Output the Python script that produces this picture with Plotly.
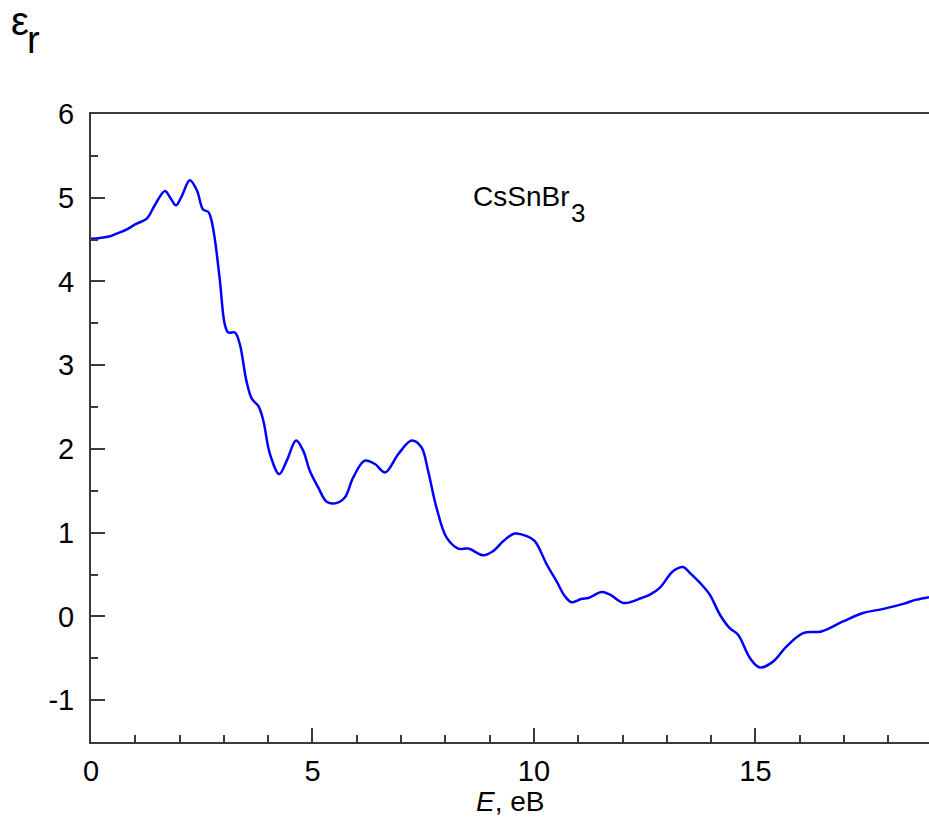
import plotly.graph_objects as go

# Energy (eV) and real part of dielectric function
energy = [0.0, 0.2, 0.43, 0.62, 0.80, 1.03, 1.26, 1.44, 1.67, 1.80, 1.92, 2.05, 2.23, 2.39,
          2.53, 2.65, 2.72, 2.80, 2.91, 3.02, 3.10, 3.25, 3.36, 3.51, 3.63, 3.78, 3.89,
          4.04, 4.25, 4.42, 4.63, 4.79, 4.94, 5.13, 5.32, 5.51, 5.73, 5.92, 6.18, 6.41,
          6.64, 6.94, 7.24, 7.46, 7.61, 7.80, 8.03, 8.29, 8.52, 8.86, 9.08, 9.31, 9.57,
          9.83, 10.02, 10.29, 10.51, 10.70, 10.85, 11.08, 11.23, 11.53, 11.72, 12.03,
          12.43, 12.62, 12.84, 13.14, 13.37, 13.52, 13.75, 13.97, 14.20, 14.42, 14.61,
          14.88, 15.10, 15.40, 15.70, 16.08, 16.49, 16.98, 17.43, 17.89, 18.34, 18.64, 18.92]
eps_r = [4.51, 4.52, 4.54, 4.58, 4.62, 4.69, 4.75, 4.91, 5.08, 4.99, 4.91, 5.02, 5.21, 5.09,
         4.86, 4.83, 4.73, 4.49, 4.01, 3.49, 3.39, 3.39, 3.25, 2.81, 2.60, 2.51, 2.34,
         1.94, 1.70, 1.86, 2.10, 1.98, 1.74, 1.54, 1.37, 1.35, 1.42, 1.66, 1.86, 1.82,
         1.72, 1.94, 2.10, 2.02, 1.74, 1.30, 0.94, 0.81, 0.81, 0.73, 0.78, 0.90, 0.99,
         0.96, 0.90, 0.62, 0.42, 0.24, 0.17, 0.21, 0.22, 0.29, 0.26, 0.16,
         0.22, 0.26, 0.34, 0.54, 0.59, 0.52, 0.40, 0.26, 0.02, -0.14, -0.22,
         -0.50, -0.61, -0.54, -0.36, -0.20, -0.18, -0.06, 0.04, 0.09, 0.15, 0.20, 0.23]

x_tickvals = [0, 5, 10, 15]
x_ticktext = ["0", "5", "10", "15"]
y_tickvals = [-1, 0, 1, 2, 3, 4, 5, 6]
y_ticktext = ["-1", "0", "1", "2", "3", "4", "5", "6"]

FONT = "Arial, Liberation Sans, sans-serif"
AX = "#3a3a3a"

fig = go.Figure()
fig.add_trace(go.Scatter(x=energy, y=eps_r, mode="lines",
                         line=dict(color="#0000ff", width=2.5, shape="spline", smoothing=1.0),
                         showlegend=False, hoverinfo="skip"))

W, H = 929, 819
L, R, T, B = 91, 0, 114, 77
pw, ph = W - L - R, H - T - B

def px(x):
    return (x - L) / pw

def py(y):
    return (H - B - y) / ph

fig.update_layout(
    width=W, height=H,
    margin=dict(l=L, r=R, t=T, b=B, pad=0),
    paper_bgcolor="white", plot_bgcolor="white",
    font=dict(family=FONT, size=29, color="black"),
    xaxis=dict(range=[0, 18.92], tickmode="array", tickvals=x_tickvals, ticktext=x_ticktext,
               ticks="inside", ticklen=14, tickwidth=1.5, tickcolor=AX,
               minor=dict(dtick=1, ticks="inside", ticklen=7, tickwidth=1.5, tickcolor=AX),
               showline=True, linecolor=AX, linewidth=2, mirror=True,
               showgrid=False, zeroline=False, ticklabelstandoff=2,
               tickfont=dict(family=FONT, size=29, color="black")),
    yaxis=dict(range=[-1.5, 6], tickmode="array", tickvals=y_tickvals, ticktext=y_ticktext,
               ticks="inside", ticklen=14, tickwidth=1.5, tickcolor=AX,
               minor=dict(dtick=0.5, ticks="inside", ticklen=7, tickwidth=1.5, tickcolor=AX),
               showline=True, linecolor=AX, linewidth=2, mirror=False,
               showgrid=False, zeroline=False, ticklabelstandoff=9,
               tickfont=dict(family=FONT, size=29, color="black")),
)

ann = [
    dict(text="ε", x=px(20), y=py(21), size=40),
    dict(text="r", x=px(33), y=py(40), size=38),
    dict(text="<i>E</i>, eB", x=px(510), y=py(801), size=28),
]
for a in ann:
    fig.add_annotation(text=a["text"], x=a["x"], y=a["y"], xref="paper", yref="paper",
                       xanchor="center", yanchor="middle", showarrow=False, borderpad=0,
                       font=dict(family=FONT, size=a["size"], color="black"))

fig.add_annotation(text="CsSnBr", x=px(471), y=py(196), xref="paper", yref="paper",
                   xanchor="left", yanchor="middle", showarrow=False,
                   font=dict(family=FONT, size=28, color="black"))
fig.add_annotation(text="3", x=px(569), y=py(213), xref="paper", yref="paper",
                   xanchor="left", yanchor="middle", showarrow=False,
                   font=dict(family=FONT, size=26, color="black"))

fig.write_html("out.html")
